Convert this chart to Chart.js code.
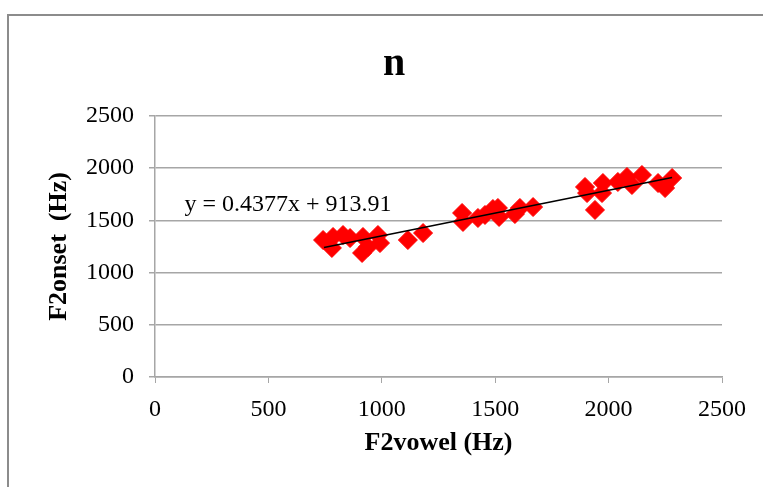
<!DOCTYPE html>
<html>
<head>
<meta charset="utf-8">
<script src="https://cdn.jsdelivr.net/npm/chart.js@4.4.1/dist/chart.umd.min.js"></script>
<style>
  html, body { margin: 0; padding: 0; background: #fff; overflow: hidden; }
  #frame { position: absolute; left: 7px; top: 14px; width: 900px; height: 600px; border-left: 2px solid #8c8c8c; border-top: 2px solid #8c8c8c; }
  #wrap { position: absolute; left: 0; top: 0; width: 763px; height: 487px; }
</style>
</head>
<body>
<div id="frame"></div>
<div id="wrap"><canvas id="chart" width="763" height="487"></canvas></div>
<script>
// F2vowel (Hz) / F2onset (Hz) pairs for /n/
const f2vowel = [741, 785, 780, 829, 860, 917, 913, 939, 983, 992, 1115, 1182,
                 1354, 1358, 1424, 1455, 1490, 1512, 1517, 1587, 1609, 1667,
                 1896, 1905, 1940, 1971, 1975, 2041, 2081, 2103, 2147, 2218, 2249, 2280];
const f2onset = [1312, 1341, 1236, 1360, 1331, 1341, 1188, 1245, 1360, 1283, 1312, 1379,
                 1571, 1485, 1523, 1552, 1609, 1619, 1533, 1561, 1619, 1628,
                 1820, 1762, 1600, 1762, 1858, 1868, 1916, 1839, 1935, 1858, 1810, 1906];
const slope = 0.4377;
const intercept = 913.91;
const trendX = [745, 2280];
const axisTicks = [0, 500, 1000, 1500, 2000, 2500];

const serif = '"Liberation Serif", "Times New Roman", serif';
const points = f2vowel.map((x, i) => ({ x: x, y: f2onset[i] }));
const trend = trendX.map(x => ({ x: x, y: slope * x + intercept }));

// chart title and trendline equation, placed like the Excel original
const labels = {
  id: 'labels',
  afterDraw(chart) {
    const ctx = chart.ctx;
    const xs = chart.scales.x, ys = chart.scales.y;
    ctx.save();
    ctx.fillStyle = '#000';
    ctx.textAlign = 'center';
    ctx.textBaseline = 'middle';
    ctx.font = 'bold 40px ' + serif;
    ctx.fillText('n', 394, 65);
    ctx.textAlign = 'left';
    ctx.font = '24px ' + serif;
    ctx.fillText('y = ' + slope + 'x + ' + intercept, xs.getPixelForValue(130), ys.getPixelForValue(1655));
    ctx.restore();
  }
};

new Chart(document.getElementById('chart'), {
  type: 'scatter',
  data: {
    datasets: [{
      data: points,
      pointStyle: 'rectRot',
      pointRadius: 9.5,
      backgroundColor: '#ff0000',
      borderColor: '#ff0000',
      borderWidth: 1,
      order: 2
    }, {
      type: 'line',
      data: trend,
      borderColor: '#000',
      borderWidth: 1.5,
      pointRadius: 0,
      fill: false,
      order: 1
    }]
  },
  options: {
    responsive: false,
    animation: false,
    layout: { padding: { left: 0, right: 41, top: 116, bottom: 0 } },
    plugins: { legend: { display: false }, title: { display: false }, tooltip: { enabled: false } },
    scales: {
      x: {
        type: 'linear', min: 0, max: 2500,
        afterBuildTicks: s => { s.ticks = axisTicks.map(v => ({ value: v })); },
        afterFit: s => { s.height = 110; s.paddingLeft = 0; s.paddingRight = 0; },
        grid: { drawOnChartArea: false, drawTicks: true, tickLength: 6, color: '#a6a6a6' },
        border: { color: '#a6a6a6', width: 1.5 },
        ticks: { color: '#000', font: { family: serif, size: 24 }, padding: 12, maxRotation: 0, callback: v => String(v) },
        title: { display: true, text: 'F2vowel (Hz)', color: '#000', font: { family: serif, size: 26, weight: 'bold' }, padding: { top: 0, bottom: 28 } }
      },
      y: {
        type: 'linear', min: 0, max: 2500,
        afterBuildTicks: s => { s.ticks = axisTicks.map(v => ({ value: v })); },
        afterFit: s => { s.width = 155; s.paddingTop = 0; s.paddingBottom = 0; },
        grid: { drawOnChartArea: true, drawTicks: true, tickLength: 6, color: '#a6a6a6', lineWidth: 1.5 },
        border: { color: '#a6a6a6', width: 1.5 },
        ticks: { color: '#000', font: { family: serif, size: 24 }, padding: 15, callback: v => String(v) },
        title: { display: true, text: 'F2onset  (Hz)', color: '#000', font: { family: serif, size: 26, weight: 'bold' }, padding: { top: 44, bottom: 0 } }
      }
    }
  },
  plugins: [labels]
});
</script>
</body>
</html>
